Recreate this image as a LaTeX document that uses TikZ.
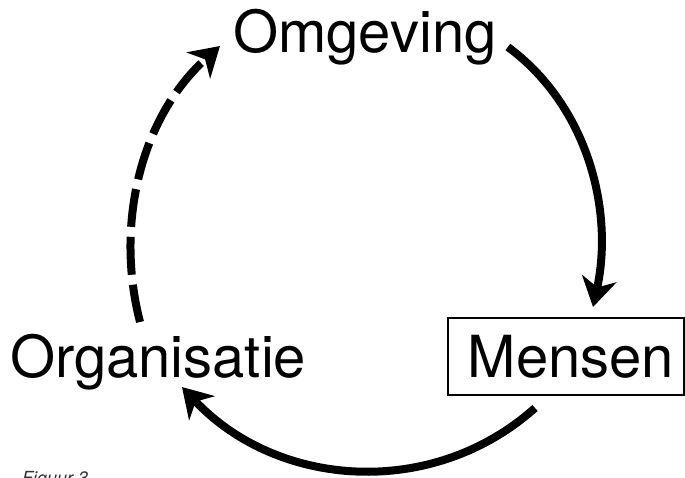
\documentclass[tikz,border=0pt]{standalone}
\usepackage{fontspec}
\setmainfont{TeX Gyre Heros}
\usetikzlibrary{arrows.meta}
\begin{document}
\begin{tikzpicture}[x=1pt,y=-1pt,
  lab/.style={font=\fontsize{58}{60}\selectfont, inner sep=0pt},
  mbox/.style={lab, draw, line width=2pt, minimum width=236pt, minimum height=77pt},
  flow/.style={line width=8pt, -{Stealth[length=29pt,width=35pt,inset=9pt]}},
  figcaption/.style={font=\fontsize{18}{20}\selectfont\itshape, text=black!80, inner sep=0pt},
]
\useasboundingbox (0,0) rectangle (685,478);
\clip (0,0) rectangle (685,478);
\node[lab, anchor=base west] (omg) at (233,53) {Omgeving};
\node[lab, anchor=base west] (org) at (10,377) {Organisatie};
\node[mbox] (men) at (566,356.5) {\hspace*{10pt}Mensen};
\node[figcaption, anchor=base west] (fig) at (22,484) {Figuur 3};
% Omgeving -> Mensen
\draw[flow] ([shift={(11,-6)}]omg.base east) .. controls (588,106) and (614,211) .. ([shift={(27,-10)}]men.north);
% Mensen -> Organisatie
\draw[flow] ([shift={(-31,12)}]men.south) .. controls (432,500) and (277,488) .. ([shift={(172,10)}]org.base west);
% Organisatie -> Omgeving (dashed)
\draw[flow, dash pattern=on 38pt off 10pt] ([shift={(130,-55)}]org.base west) .. controls (115,225) and (140,118) .. ([shift={(-13,-7)}]omg.base west);
\end{tikzpicture}
\end{document}
